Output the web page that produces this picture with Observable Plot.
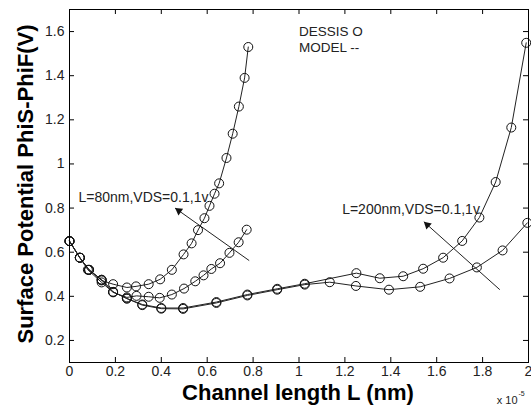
<!DOCTYPE html>
<html>
<head>
<meta charset="utf-8">
<script src="https://cdn.jsdelivr.net/npm/d3@7"></script>
<script src="https://cdn.jsdelivr.net/npm/@observablehq/plot@0.6"></script>
<style>
  body { margin: 0; background: #fff; }
  #chart svg { display: block; }
</style>
</head>
<body>
<div id="chart"></div>
<script>
// Surface potential along the channel, x in units of 1e-5.
// L = 80 nm, VDS = 1 V
const x80High = [0, 0.045, 0.085, 0.14, 0.19, 0.25, 0.29, 0.345, 0.395, 0.446, 0.497, 0.532, 0.56, 0.588, 0.61, 0.632, 0.652, 0.684, 0.711, 0.738, 0.763, 0.779];
const y80High = [0.65, 0.575, 0.52, 0.472, 0.455, 0.44, 0.445, 0.455, 0.477, 0.52, 0.59, 0.64, 0.70, 0.754, 0.81, 0.865, 0.912, 1.027, 1.137, 1.26, 1.39, 1.53];
// L = 80 nm, VDS = 0.1 V
const x80Low = [0, 0.045, 0.08, 0.14, 0.19, 0.25, 0.292, 0.345, 0.393, 0.446, 0.499, 0.548, 0.584, 0.618, 0.656, 0.697, 0.737, 0.772];
const y80Low = [0.65, 0.575, 0.52, 0.463, 0.418, 0.395, 0.402, 0.398, 0.393, 0.408, 0.435, 0.468, 0.495, 0.524, 0.55, 0.597, 0.645, 0.702];
// L = 200 nm, VDS = 1 V
const x200High = [0, 0.045, 0.085, 0.14, 0.19, 0.25, 0.317, 0.40, 0.495, 0.64, 0.775, 0.905, 1.025, 1.25, 1.352, 1.454, 1.541, 1.628, 1.711, 1.786, 1.857, 1.925, 1.99];
const y200High = [0.65, 0.575, 0.52, 0.475, 0.42, 0.39, 0.363, 0.347, 0.347, 0.374, 0.408, 0.434, 0.457, 0.505, 0.482, 0.491, 0.525, 0.575, 0.651, 0.757, 0.918, 1.165, 1.549];
// L = 200 nm, VDS = 0.1 V
const x200Low = [0, 0.045, 0.085, 0.14, 0.19, 0.25, 0.317, 0.40, 0.495, 0.64, 0.775, 0.905, 1.025, 1.134, 1.248, 1.392, 1.528, 1.656, 1.775, 1.887, 1.995];
const y200Low = [0.65, 0.575, 0.52, 0.475, 0.42, 0.39, 0.36, 0.344, 0.343, 0.37, 0.404, 0.43, 0.453, 0.464, 0.447, 0.43, 0.443, 0.481, 0.531, 0.608, 0.733];

const xTicks = [0, 0.2, 0.4, 0.6, 0.8, 1, 1.2, 1.4, 1.6, 1.8, 2];
const yTicks = [0.2, 0.4, 0.6, 0.8, 1, 1.2, 1.4, 1.6];

const yTitle = "Surface Potential PhiS-PhiF(V)";
const xTitle = "Channel length L (nm)";
const legendLines = ["DESSIS O", "MODEL --"];
const label80 = "L=80nm,VDS=0.1,1v";
const label200 = "L=200nm,VDS=0.1,1v";

const series = [
  {name: "L80 VDS1", xs: x80High, ys: y80High},
  {name: "L80 VDS0.1", xs: x80Low, ys: y80Low},
  {name: "L200 VDS1", xs: x200High, ys: y200High},
  {name: "L200 VDS0.1", xs: x200Low, ys: y200Low}
];
const rows = series.flatMap(s => s.xs.map((x, i) => ({series: s.name, x, y: s.ys[i]})));

const W = 531, H = 407;
const mL = 69, mR = 3, mT = 9, mB = 45;
const frameW = W - mL - mR, frameH = H - mT - mB;
const xDomain = [0, 2], yDomain = [0.1, 1.7];
const tickLen = 5;
const font = "'Liberation Sans', Arial, Helvetica, sans-serif";

const fmt = d => String(d);

// Arrows pointing from the crossing point toward the label
const arrows = [
  {x1: 0.783, y1: 0.562, x2: 0.46, y2: 0.80},
  {x1: 1.875, y1: 0.43, x2: 1.544, y2: 0.738}
];
// Filled triangular heads: rotate a triangle symbol along each arrow's on-screen direction
const headR = 3;
const tipOffset = 2 * Math.sqrt((Math.PI * headR * headR) / (3 * Math.sqrt(3)));
const kx = frameW / (xDomain[1] - xDomain[0]);
const ky = frameH / (yDomain[1] - yDomain[0]);
const heads = arrows.map(a => {
  const px = (a.x2 - a.x1) * kx, py = -(a.y2 - a.y1) * ky;
  const len = Math.hypot(px, py), ux = px / len, uy = py / len;
  return {
    x: a.x2 - ux * tipOffset / kx,
    y: a.y2 + uy * tipOffset / ky,
    angle: Math.atan2(ux, -uy) * 180 / Math.PI
  };
});

const chart = Plot.plot({
  width: W,
  height: H,
  marginLeft: mL,
  marginRight: mR,
  marginTop: mT,
  marginBottom: mB,
  style: {fontFamily: font, background: "#fff", color: "#000"},
  x: {domain: xDomain, ticks: xTicks},
  y: {domain: yDomain, ticks: yTicks},
  marks: [
    // curves: connecting lines and circle markers
    Plot.line(rows, {x: "x", y: "y", z: "series", stroke: "#222", strokeWidth: 1}),
    Plot.dot(rows, {x: "x", y: "y", r: 4.5, stroke: "#111", fill: "none", strokeWidth: 1}),
    // box around the plot area
    Plot.frame({stroke: "#000", strokeWidth: 1}),
    // inward tick marks on all four sides
    Plot.tickX(xTicks, {x: d => d, insetTop: frameH - tickLen, stroke: "#000"}),
    Plot.tickX(xTicks, {x: d => d, insetBottom: frameH - tickLen, stroke: "#000"}),
    Plot.tickY(yTicks, {y: d => d, insetRight: frameW - tickLen, stroke: "#000"}),
    Plot.tickY(yTicks, {y: d => d, insetLeft: frameW - tickLen, stroke: "#000"}),
    // tick labels
    Plot.axisX({ticks: xTicks, tickSize: 0, tickPadding: 4, tickFormat: fmt, label: null, fontSize: 14, fill: "#222"}),
    Plot.axisY({ticks: yTicks, tickSize: 0, tickPadding: 5, tickFormat: fmt, label: null, fontSize: 14, fill: "#222"}),
    // axis titles
    Plot.text([yTitle], {text: d => d, frameAnchor: "left", textAnchor: "middle", lineAnchor: "middle", rotate: -90, dx: -44, dy: -2, fontSize: 22, fontWeight: "bold", fill: "#000"}),
    Plot.text([xTitle], {text: d => d, frameAnchor: "bottom", textAnchor: "middle", lineAnchor: "middle", dx: -1, dy: 30, fontSize: 22, fontWeight: "bold", fill: "#000"}),
    // exponent note for the x axis
    Plot.text(["x 10"], {text: d => d, frameAnchor: "bottom-right", textAnchor: "end", lineAnchor: "middle", dx: -11, dy: 38, fontSize: 11, fill: "#222"}),
    Plot.text(["-5"], {text: d => d, frameAnchor: "bottom-right", textAnchor: "start", lineAnchor: "middle", dx: -10, dy: 31, fontSize: 7, fill: "#222"}),
    // marker / line key
    Plot.text(legendLines, {text: d => d, x: 1.0, y: (d, i) => 1.60 - i * 0.072, textAnchor: "start", fontSize: 13.5, fill: "#222"}),
    // curve annotations with arrows
    Plot.text([label80], {text: d => d, x: 0.039, y: 0.85, textAnchor: "start", fontSize: 14, fill: "#222"}),
    Plot.text([label200], {text: d => d, x: 1.188, y: 0.792, textAnchor: "start", fontSize: 14, fill: "#222"}),
    Plot.link(arrows, {x1: "x1", y1: "y1", x2: "x2", y2: "y2", stroke: "#222", strokeWidth: 1}),
    Plot.dot(heads, {x: "x", y: "y", symbol: "triangle", r: headR, rotate: "angle", fill: "#111", stroke: "none"})
  ]
});

document.getElementById("chart").appendChild(chart);
</script>
</body>
</html>
